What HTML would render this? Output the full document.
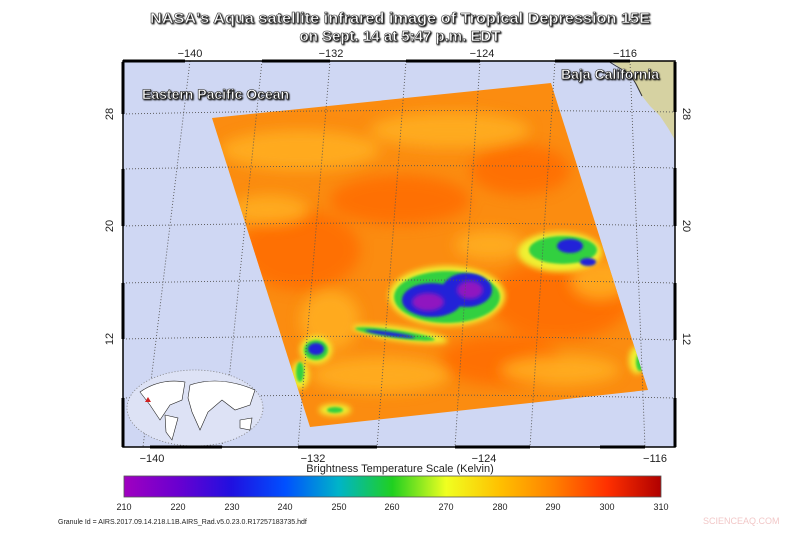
<!DOCTYPE html>
<html><head><meta charset="utf-8"><style>
body{margin:0;background:#fff;width:800px;height:530px;overflow:hidden;font-family:"Liberation Sans",sans-serif}
</style></head><body>
<svg width="800" height="530" xmlns="http://www.w3.org/2000/svg" font-family="Liberation Sans, sans-serif">
<defs>
<filter id="b1"><feGaussianBlur stdDeviation="1.2"/></filter>
<filter id="b2"><feGaussianBlur stdDeviation="2"/></filter>
<filter id="b4"><feGaussianBlur stdDeviation="3"/></filter>
<filter id="b6"><feGaussianBlur stdDeviation="7"/></filter>
<filter id="sh"><feDropShadow dx="1" dy="1" stdDeviation="0.8" flood-color="#000"/></filter>
<clipPath id="sw"><polygon points="212,118 551,83 648,390 310,427"/></clipPath>
<linearGradient id="cb" x1="0" x2="1">
<stop offset="0" stop-color="#a000c0"/><stop offset="0.1" stop-color="#6a00d0"/><stop offset="0.2" stop-color="#2010e0"/>
<stop offset="0.3" stop-color="#0050ff"/><stop offset="0.4" stop-color="#00b4c8"/><stop offset="0.5" stop-color="#20d020"/>
<stop offset="0.6" stop-color="#f0ff20"/><stop offset="0.7" stop-color="#ffc000"/><stop offset="0.8" stop-color="#ff8000"/>
<stop offset="0.9" stop-color="#ff3000"/><stop offset="1" stop-color="#b00000"/></linearGradient>
</defs>
<g font-weight="bold" font-size="15" fill="#fff" stroke="#333" stroke-width="0.6" text-anchor="middle" filter="url(#sh)">
<text x="400" y="23" textLength="500" lengthAdjust="spacingAndGlyphs">NASA's Aqua satellite infrared image of Tropical Depression 15E</text>
<text x="400" y="41">on Sept. 14 at 5:47 p.m. EDT</text>
</g>
<rect x="123" y="61" width="552" height="386" fill="#cfd7f3"/>
<path d="M610,61 L675,61 L675,140 L668,128 L660,116 L650,106 L642,96 L636,84 L630,74 Z" fill="#d6d2a2"/>
<path d="M608,61 L616,66 L630,74 L636,84 L642,96" fill="none" stroke="#333" stroke-width="1"/>
<polygon points="212,118 551,83 648,390 310,427" fill="#fb8c10"/>
<g clip-path="url(#sw)">
<g fill="#ff6a00" filter="url(#b6)" opacity="0.8">
<ellipse cx="300" cy="250" rx="60" ry="40"/><ellipse cx="560" cy="300" rx="70" ry="40"/><ellipse cx="400" cy="200" rx="70" ry="25"/>
<ellipse cx="500" cy="360" rx="60" ry="25"/><ellipse cx="520" cy="170" rx="50" ry="25"/>
</g>
<g fill="#ffb020" filter="url(#b6)" opacity="0.85">
<ellipse cx="300" cy="150" rx="80" ry="20"/><ellipse cx="450" cy="130" rx="80" ry="18"/><ellipse cx="380" cy="375" rx="70" ry="18"/>
<ellipse cx="560" cy="370" rx="60" ry="15"/><ellipse cx="330" cy="320" rx="30" ry="30"/><ellipse cx="600" cy="280" rx="30" ry="20"/>
<ellipse cx="270" cy="210" rx="40" ry="15"/><ellipse cx="490" cy="245" rx="35" ry="15"/>
</g>
<g fill="#f0f030" filter="url(#b4)">
<ellipse cx="447" cy="296" rx="58" ry="30"/><ellipse cx="560" cy="252" rx="42" ry="20"/><ellipse cx="316" cy="350" rx="16" ry="14"/>
<ellipse cx="300" cy="375" rx="9" ry="14"/><ellipse cx="400" cy="334" rx="48" ry="7" transform="rotate(8 400 334)"/><ellipse cx="637" cy="360" rx="8" ry="14"/>
<ellipse cx="335" cy="410" rx="16" ry="6"/>
</g>
<g fill="#30d040" filter="url(#b1)">
<ellipse cx="447" cy="297" rx="53" ry="26"/><ellipse cx="563" cy="250" rx="34" ry="14"/><ellipse cx="316" cy="350" rx="12" ry="10"/>
<ellipse cx="395" cy="334" rx="40" ry="4" transform="rotate(8 395 334)"/><ellipse cx="300" cy="372" rx="4" ry="10"/>
<ellipse cx="640" cy="362" rx="4" ry="9"/><ellipse cx="335" cy="410" rx="8" ry="3"/>
</g>
<g fill="#2020d8" filter="url(#b1)">
<ellipse cx="432" cy="300" rx="30" ry="17"/><ellipse cx="467" cy="290" rx="25" ry="17"/><ellipse cx="570" cy="246" rx="13" ry="7"/>
<ellipse cx="588" cy="262" rx="8" ry="4"/><ellipse cx="316" cy="349" rx="8" ry="6"/><ellipse cx="390" cy="334" rx="25" ry="2" transform="rotate(8 390 334)"/>
</g>
<g fill="#9018c0" filter="url(#b2)">
<ellipse cx="428" cy="302" rx="16" ry="9"/><ellipse cx="470" cy="290" rx="13" ry="9"/>
</g>
</g>
<g stroke="#555" stroke-width="0.9" stroke-dasharray="1,2" fill="none">
<path d="M190,61 L143,447"/><path d="M262,61 L222,447"/><path d="M330,61 L298,447"/><path d="M406,61 L377,447"/>
<path d="M480,61 L455,447"/><path d="M555,61 L530,447"/><path d="M630,61 L645,447"/>
<path d="M123,114 Q400,108 675,112"/><path d="M123,169 Q400,163 675,168"/><path d="M123,226 Q400,220 675,226"/>
<path d="M123,283 Q400,277 675,283"/><path d="M123,339 Q400,333 675,340"/><path d="M123,398 Q400,392 675,398"/>
</g>
<ellipse cx="195" cy="408" rx="68" ry="38" fill="#dde2f5" stroke="#777" stroke-width="0.8" stroke-dasharray="1,2"/>
<g fill="#fff" stroke="#222" stroke-width="0.6">
<path d="M140,392 Q160,378 185,382 L182,400 L170,405 L160,420 L150,405 Z"/>
<path d="M165,415 L178,418 L172,440 L166,432 Z"/>
<path d="M190,385 Q220,375 255,390 L250,405 L235,410 L222,400 L208,412 L200,430 L192,412 L188,398 Z"/>
<path d="M240,420 L252,418 L250,430 L240,428 Z"/>
</g>
<path d="M145,402 l3,-5 l3,5 z" fill="#d02020"/>
<rect x="123" y="61" width="552" height="386" fill="none" stroke="#000" stroke-width="1.5"/>
<g stroke="#000" stroke-width="3">
<path d="M123,61 H185 M262,61 H330 M406,61 H480 M555,61 H630"/>
<path d="M150,447 H222 M298,447 H377 M455,447 H530 M600,447 H645"/>
<path d="M123,62 V114 M123,169 V226 M123,283 V339 M123,398 V447"/>
<path d="M675,62 V112 M675,168 V226 M675,283 V340 M675,398 V447"/>
</g>
<g font-size="11" fill="#222" text-anchor="middle">
<text x="190" y="57">−140</text><text x="331" y="57">−132</text><text x="482" y="57">−124</text><text x="625" y="57">−116</text>
<text x="152" y="462">−140</text><text x="313" y="462">−132</text><text x="484" y="462">−124</text><text x="655" y="462">−116</text>
<text transform="translate(113,114) rotate(-90)">28</text><text transform="translate(113,226) rotate(-90)">20</text><text transform="translate(113,339) rotate(-90)">12</text>
<text transform="translate(683,114) rotate(90)">28</text><text transform="translate(683,226) rotate(90)">20</text><text transform="translate(683,339) rotate(90)">12</text>
</g>
<g font-weight="bold" font-size="14" fill="#fff" stroke="#222" stroke-width="0.6" filter="url(#sh)">
<text x="142" y="99">Eastern Pacific Ocean</text>
<text x="561" y="79">Baja California</text>
</g>
<text x="400" y="472" font-size="11" fill="#222" text-anchor="middle">Brightness Temperature Scale (Kelvin)</text>
<rect x="124" y="476" width="537" height="21" fill="url(#cb)" stroke="#555" stroke-width="0.8"/>
<g font-size="9" fill="#222" text-anchor="middle">
<text x="124" y="510">210</text><text x="178" y="510">220</text><text x="232" y="510">230</text><text x="285" y="510">240</text>
<text x="339" y="510">250</text><text x="392" y="510">260</text><text x="446" y="510">270</text><text x="500" y="510">280</text>
<text x="553" y="510">290</text><text x="607" y="510">300</text><text x="661" y="510">310</text>
</g>
<text x="58" y="524" font-size="7" fill="#222">Granule Id = AIRS.2017.09.14.218.L1B.AIRS_Rad.v5.0.23.0.R17257183735.hdf</text>
<text x="703" y="524" font-size="9" fill="#f2c8c8">SCIENCEAQ.COM</text>
</svg>
</body></html>
